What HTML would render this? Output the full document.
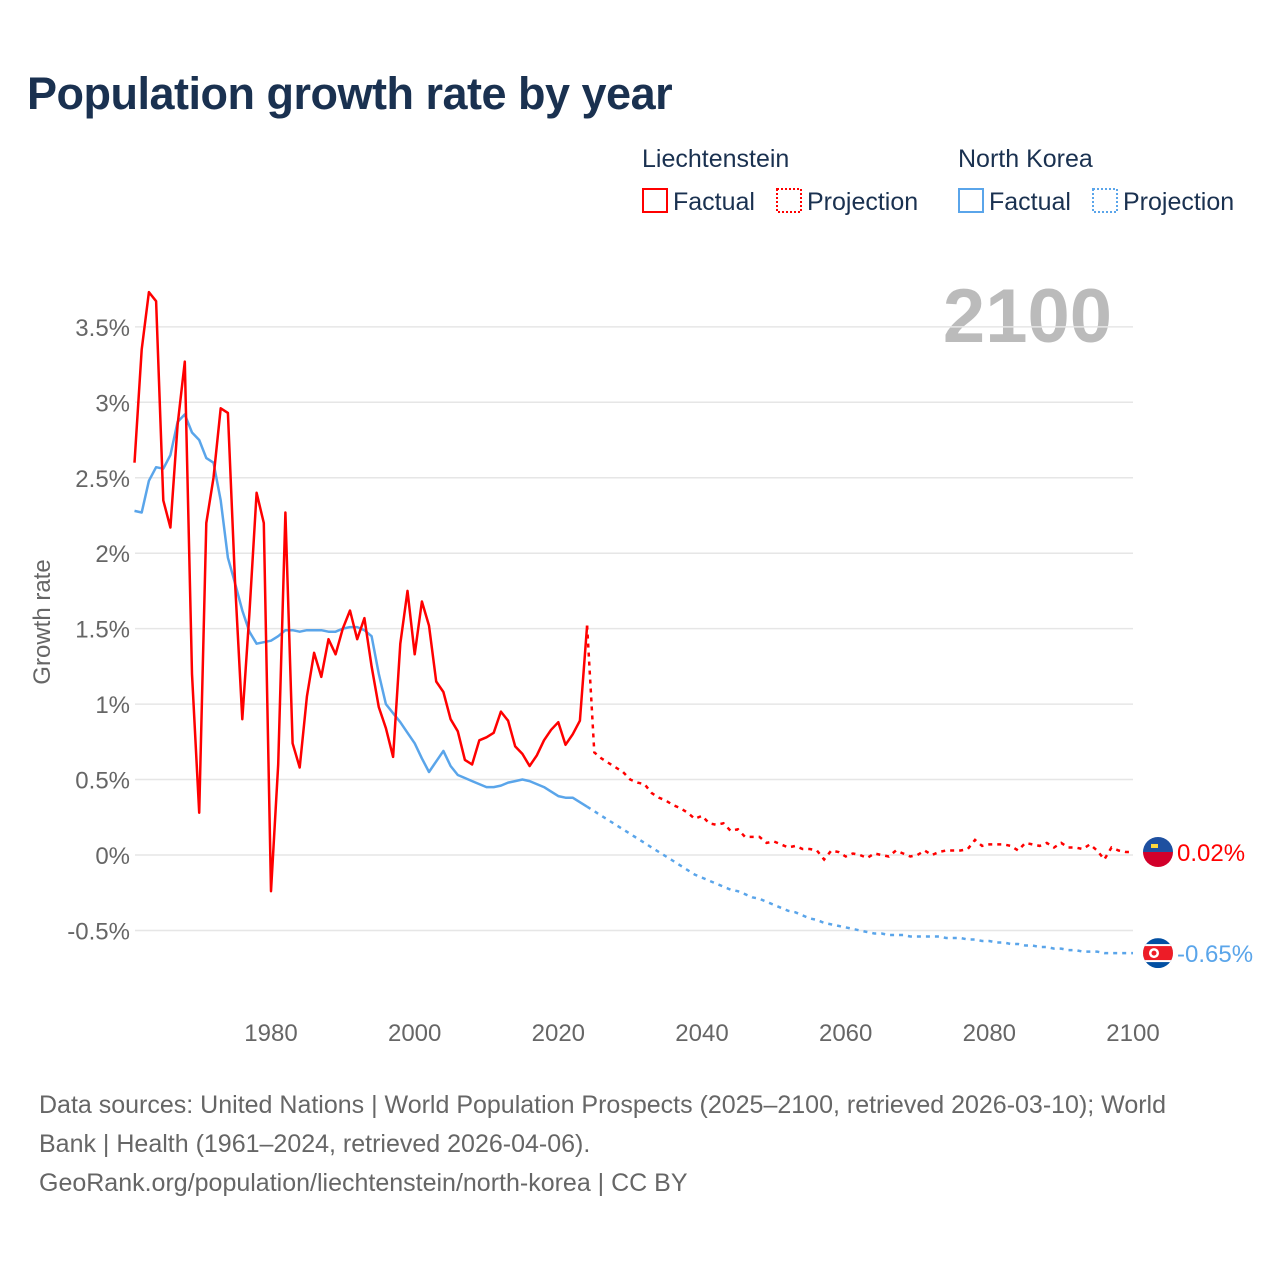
<!DOCTYPE html>
<html><head><meta charset="utf-8">
<style>
body{margin:0;background:#fff;font-family:"Liberation Sans",sans-serif;}
#wrap{position:relative;width:1280px;height:1280px;overflow:hidden;background:#fff}
h1{position:absolute;left:27px;top:68px;margin:0;font-size:45px;font-weight:bold;color:#1a3150;letter-spacing:-0.5px}
.src{position:absolute;left:39px;top:1086px;font-size:25px;line-height:39px;color:#666;width:1175px}
</style></head><body>
<div id="wrap">
<h1>Population growth rate by year</h1>
<svg id="chart" width="1280" height="1280" style="position:absolute;left:0;top:0">
<defs>
<clipPath id="c1"><circle cx="1158" cy="852" r="15"/></clipPath>
<clipPath id="c2"><circle cx="1158" cy="953" r="15"/></clipPath>
</defs>
<g id="legend" font-size="25" fill="#1a3150">
 <text x="642" y="167">Liechtenstein</text>
 <text x="958" y="167">North Korea</text>
 <rect x="643" y="189" width="24" height="23" fill="none" stroke="#f00" stroke-width="2"/>
 <text x="673" y="210">Factual</text>
 <rect x="777" y="189" width="24" height="23" fill="none" stroke="#f00" stroke-width="2" stroke-dasharray="2,2"/>
 <text x="807" y="210">Projection</text>
 <rect x="959" y="189" width="24" height="23" fill="none" stroke="#5aa5ea" stroke-width="2"/>
 <text x="989" y="210">Factual</text>
 <rect x="1093" y="189" width="24" height="23" fill="none" stroke="#5aa5ea" stroke-width="2" stroke-dasharray="2,2"/>
 <text x="1123" y="210">Projection</text>
</g>
<text x="1112" y="342" text-anchor="end" font-size="76" font-weight="bold" fill="#bbb">2100</text>
<text transform="translate(50,622) rotate(-90)" text-anchor="middle" font-size="24" fill="#666">Growth rate</text>
<g id="grid"></g><g id="marks"></g>
</svg>
<div class="src">Data sources: United Nations | World Population Prospects (2025–2100, retrieved 2026-03-10); World Bank | Health (1961–2024, retrieved 2026-04-06).<br>GeoRank.org/population/liechtenstein/north-korea | CC BY</div>
</div>
<script>
const yTicks=[-0.5,0,0.5,1,1.5,2,2.5,3,3.5];
const yTickLabels=["-0.5%","0%","0.5%","1%","1.5%","2%","2.5%","3%","3.5%"];
const xTicks=[1980,2000,2020,2040,2060,2080,2100];
const factStart=1961, projStart=2025;
const liFact=[2.6,3.35,3.73,3.67,2.35,2.17,2.85,3.27,1.2,0.28,2.2,2.5,2.96,2.93,1.8,0.9,1.6,2.4,2.2,-0.24,0.6,2.27,0.74,0.58,1.05,1.34,1.18,1.43,1.33,1.5,1.62,1.43,1.57,1.25,0.98,0.84,0.65,1.4,1.75,1.33,1.68,1.52,1.15,1.08,0.9,0.82,0.63,0.6,0.76,0.78,0.81,0.95,0.89,0.72,0.67,0.59,0.66,0.76,0.83,0.88,0.73,0.8,0.89,1.52];
const nkFact=[2.28,2.27,2.48,2.57,2.56,2.65,2.87,2.92,2.8,2.75,2.63,2.6,2.35,1.97,1.8,1.62,1.48,1.4,1.41,1.42,1.45,1.49,1.49,1.48,1.49,1.49,1.49,1.48,1.48,1.5,1.51,1.51,1.49,1.45,1.2,1.0,0.94,0.88,0.81,0.74,0.64,0.55,0.62,0.69,0.59,0.53,0.51,0.49,0.47,0.45,0.45,0.46,0.48,0.49,0.5,0.49,0.47,0.45,0.42,0.39,0.38,0.38,0.35,0.32];
const liProj=[0.68,0.64,0.61,0.58,0.55,0.5,0.48,0.47,0.41,0.38,0.36,0.33,0.31,0.28,0.24,0.26,0.21,0.2,0.21,0.16,0.17,0.12,0.12,0.12,0.08,0.09,0.07,0.05,0.06,0.04,0.04,0.03,-0.03,0.03,0.02,-0.01,0.01,0.0,-0.02,0.01,0.0,-0.01,0.03,0.01,-0.01,0.0,0.03,0.0,0.02,0.03,0.03,0.03,0.04,0.1,0.06,0.07,0.07,0.07,0.06,0.03,0.08,0.07,0.06,0.08,0.05,0.08,0.05,0.05,0.04,0.07,0.03,-0.03,0.05,0.03,0.02,0.02];
const nkProj=[0.29,0.26,0.23,0.2,0.17,0.14,0.11,0.08,0.05,0.02,-0.01,-0.04,-0.07,-0.1,-0.13,-0.15,-0.17,-0.19,-0.21,-0.23,-0.24,-0.26,-0.28,-0.29,-0.31,-0.33,-0.35,-0.37,-0.38,-0.4,-0.42,-0.43,-0.45,-0.46,-0.47,-0.48,-0.49,-0.5,-0.51,-0.52,-0.52,-0.53,-0.53,-0.53,-0.54,-0.54,-0.54,-0.54,-0.54,-0.55,-0.55,-0.55,-0.56,-0.56,-0.57,-0.57,-0.58,-0.58,-0.59,-0.59,-0.6,-0.6,-0.61,-0.61,-0.62,-0.62,-0.63,-0.63,-0.64,-0.64,-0.64,-0.65,-0.65,-0.65,-0.65,-0.65];
const NS='http://www.w3.org/2000/svg';
const X=yr=>271+(yr-1980)*(1133-271)/120;
const Y=v=>855-v*150.9;
const grid=document.getElementById('grid'),marks=document.getElementById('marks');
function mk(tag,attrs,parent){const e=document.createElementNS(NS,tag);for(const k in attrs)e.setAttribute(k,attrs[k]);parent.appendChild(e);return e;}
yTicks.forEach((t,i)=>{
 const l=mk('line',{x1:135,x2:1133,y1:Y(t),y2:Y(t),stroke:'#e6e6e6','stroke-width':1.5},grid);
 
 
 const tx=mk('text',{x:130,y:Y(t)+9,'text-anchor':'end','font-size':24,fill:'#666'},grid);
 tx.textContent=yTickLabels[i];
 
 
});
xTicks.forEach(t=>{
 const tx=mk('text',{x:X(t),y:1041,'text-anchor':'middle','font-size':24,fill:'#666'},grid);
 tx.textContent=t;
 
 
});
function path(vals,start,prefix){let d=prefix||'';vals.forEach((v,i)=>{d+=(d?'L':'M')+X(start+i).toFixed(1)+','+Y(v).toFixed(1);});return d;}
function series(fact,proj,color,name){
 const pp=mk('path',{d:path(proj,projStart,'M'+X(projStart-1).toFixed(1)+','+Y(fact[fact.length-1]).toFixed(1)),fill:'none',stroke:color,'stroke-width':2.5,'stroke-dasharray':'4,5'},marks);
 
 
 const fp=mk('path',{d:path(fact,factStart),fill:'none',stroke:color,'stroke-width':2.5,'stroke-linejoin':'round'},marks);
 
 
}
series(nkFact,nkProj,'#5aa5ea','north-korea');
series(liFact,liProj,'#f00','liechtenstein');
const liV=liProj[liProj.length-1],nkV=nkProj[nkProj.length-1];
const cx=1158;
let ly=Y(liV), ny=Y(nkV);
document.querySelector('#c1 circle').setAttribute('cy',ly);
document.querySelector('#c2 circle').setAttribute('cy',ny);
let g=mk('g',{'clip-path':'url(#c1)'},marks);


mk('rect',{x:cx-15,y:ly-15,width:30,height:15,fill:'#1e50a0'},g);
mk('rect',{x:cx-15,y:ly,width:30,height:15,fill:'#d2002a'},g);
mk('rect',{x:cx-7,y:ly-8,width:7,height:4,fill:'#ffd83d'},g);
let t1=mk('text',{x:1177,y:ly+9,'font-size':24,fill:'#f00'},marks);
t1.textContent=liV.toFixed(2)+'%';


g=mk('g',{'clip-path':'url(#c2)'},marks);


mk('rect',{x:cx-15,y:ny-15,width:30,height:30,fill:'#024fa2'},g);
mk('rect',{x:cx-15,y:ny-9,width:30,height:18,fill:'#fff'},g);
mk('rect',{x:cx-15,y:ny-7,width:30,height:14,fill:'#ed1c27'},g);
mk('circle',{cx:cx-4,cy:ny,r:5,fill:'#fff'},g);
mk('circle',{cx:cx-4,cy:ny,r:2.5,fill:'#ed1c27'},g);
let t2=mk('text',{x:1177,y:ny+9,'font-size':24,fill:'#5aa5ea'},marks);
t2.textContent=nkV.toFixed(2)+'%';


</script>
</body></html>
